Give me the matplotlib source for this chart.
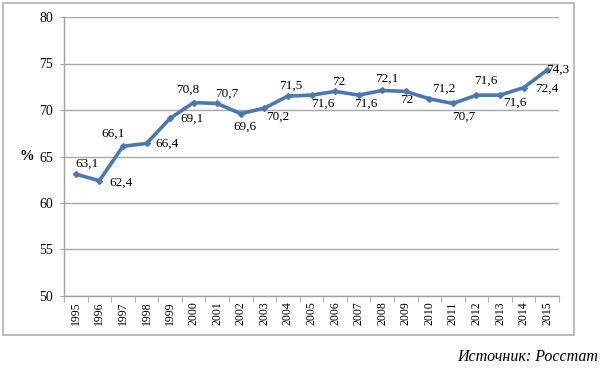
import matplotlib
matplotlib.use("Agg")
import matplotlib.pyplot as plt
from matplotlib.patches import Rectangle
import numpy as np

years = ["1995", "1996", "1997", "1998", "1999", "2000", "2001", "2002", "2003", "2004",
         "2005", "2006", "2007", "2008", "2009", "2010", "2011", "2012", "2013", "2014", "2015"]
values = [63.1, 62.4, 66.1, 66.4, 69.1, 70.8, 70.7, 69.6, 70.2, 71.5,
          71.6, 72.0, 71.6, 72.1, 72.0, 71.2, 70.7, 71.6, 71.6, 72.4, 74.3]
labels = ["63,1", "62,4", "66,1", "66,4", "69,1", "70,8", "70,7", "69,6", "70,2", "71,5",
          "71,6", "72", "71,6", "72,1", "72", "71,2", "70,7", "71,6", "71,6", "72,4", "74,3"]
y_ticks = [50, 55, 60, 65, 70, 75, 80]

# label offsets in pixels (dx, dy; dy positive = up)
offsets = [(11, 10), (22, -2), (-10, 13), (21, 0), (22, 0), (-6, 13), (10, 10), (4, -13), (13, -9), (3, 10),
           (11, -9), (4, 9), (7, -9), (5, 12), (1, -9), (14, 10), (11, -13), (9, 14), (15, -8), (23, -1), (10, 0)]

plt.rcParams['font.family'] = ['Liberation Serif', 'DejaVu Serif']

W, H = 600, 368
fig = plt.figure(figsize=(W / 100, H / 100), dpi=100)
fig.patch.set_facecolor("white")

# outer chart frame
fig.patches.append(Rectangle((3 / W, 1 - 335 / H), (574 - 3) / W, (335 - 3) / H,
                             transform=fig.transFigure, fill=False, edgecolor="#b0b0b0", lw=1.2))

left, right, top, bottom = 64, 559, 17, 296
ax = fig.add_axes([left / W, 1 - bottom / H, (right - left) / W, (bottom - top) / H])

x = np.arange(len(years))
ax.plot(x, values, color="#4a78b0", lw=2.6, marker="D", ms=3, solid_joinstyle="round", zorder=3)

for xi, v, lab, (dx, dy) in zip(x, values, labels, offsets):
    ax.annotate(lab, (xi, v), xytext=(dx * 0.72, dy * 0.72), textcoords="offset points",
                ha="center", va="center", fontsize=9.5, color="black")

ax.set_xlim(-0.5, len(years) - 0.5)
ax.set_ylim(50, 80)
ax.set_yticks(y_ticks)
ax.set_yticklabels([str(t) for t in y_ticks], fontsize=10)
ax.yaxis.grid(True, color="#a8a8a8", lw=1)
ax.set_axisbelow(True)

ax.set_xticks(x)
ax.set_xticklabels(years, rotation=90, fontsize=8.5)
ax.tick_params(axis="x", length=0, pad=4)
ax.set_xticks(np.arange(-0.5, len(years), 1), minor=True)
ax.tick_params(axis="x", which="minor", length=4, color="#a0a0a0", direction="out")
ax.tick_params(axis="y", length=3, color="#a0a0a0", pad=5)

for s in ["top", "right"]:
    ax.spines[s].set_visible(False)
for s in ["left", "bottom"]:
    ax.spines[s].set_color("#a0a0a0")
    ax.spines[s].set_linewidth(1)

ax.set_ylabel("%", rotation=0, fontsize=10.5, fontweight="bold", va="center", ha="center")
ax.yaxis.set_label_coords(-(64 - 27) / (right - left), 0.5)

fig.text(598 / W, 1 - 357 / H, "Источник: Росстат", ha="right", va="center",
         fontsize=11.5, style="italic")

fig.savefig("out.png", dpi=100)
